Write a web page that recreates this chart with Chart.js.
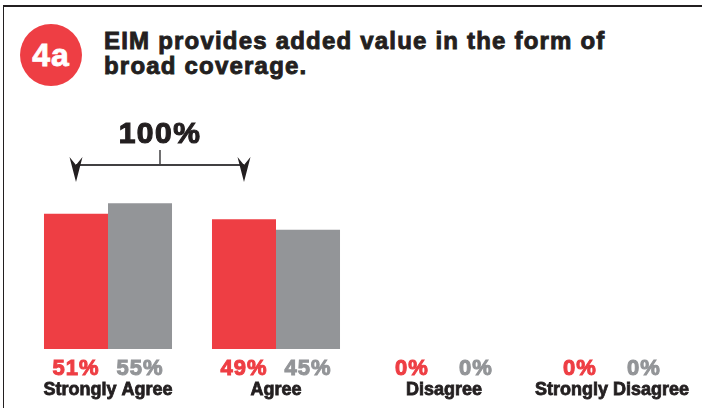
<!DOCTYPE html>
<html>
<head>
<meta charset="utf-8">
<script src="https://cdn.jsdelivr.net/npm/chart.js@4/dist/chart.umd.min.js"></script>
<style>
  html, body { margin: 0; padding: 0; background: #fff; }
  body { width: 702px; height: 408px; position: relative; overflow: hidden; font-family: "Liberation Sans", Arial, sans-serif; }
  #frame { position: absolute; left: 3px; top: 5px; right: -2px; bottom: -2px; border-top: 2px solid #231f20; border-left: 1.5px solid #231f20; }
  #badge { position: absolute; left: 20px; top: 24px; width: 62px; height: 62px; border-radius: 50%; background: #ee3e44;
           color: #fff; font-weight: bold; font-size: 32px; letter-spacing: 1px; line-height: 62px; text-align: center;
           -webkit-text-stroke: 0.8px #fff; }
  #title { position: absolute; left: 104px; top: 28px; margin: 0; font-size: 24px; line-height: 25px; font-weight: bold;
           letter-spacing: 1.2px; color: #231f20; -webkit-text-stroke: 0.9px #231f20; }
  #wrap { position: absolute; left: 0; top: 0; width: 702px; height: 408px; }
</style>
</head>
<body>
<div id="frame"></div>
<div id="badge">4a</div>
<h1 id="title">EIM provides added value in the form of<br>broad coverage.</h1>
<div id="wrap"><canvas id="chart" width="702" height="408"></canvas></div>
<script>
var categories = ['Strongly Agree', 'Agree', 'Disagree', 'Strongly Disagree'];
var seriesRed = [51, 49, 0, 0];
var seriesGray = [55, 45, 0, 0];
var bracketLabel = '100%';

var RED = '#ee3e44';
var GRAY = '#939598';
var INK = '#231f20';

// percentage under each bar, coloured like its bar
var valueLabels = {
  id: 'valueLabels',
  afterDatasetsDraw: function(chart) {
    var ctx = chart.ctx;
    ctx.save();
    ctx.font = 'bold 22px "Liberation Sans", Arial, sans-serif';
    ctx.textAlign = 'center';
    ctx.textBaseline = 'alphabetic';
    ctx.lineWidth = 1;
    if ('letterSpacing' in ctx) ctx.letterSpacing = '1px';
    chart.data.datasets.forEach(function(ds, i) {
      var meta = chart.getDatasetMeta(i);
      meta.data.forEach(function(bar, j) {
        ctx.fillStyle = ds.backgroundColor;
        ctx.strokeStyle = ds.backgroundColor;
        ctx.fillText(ds.data[j] + '%', bar.x, 375);
        ctx.strokeText(ds.data[j] + '%', bar.x, 375);
      });
    });
    ctx.restore();
  }
};

// bracket joining the two red bars with its total
var bracket = {
  id: 'bracket',
  afterDatasetsDraw: function(chart) {
    var ctx = chart.ctx;
    var bars = chart.getDatasetMeta(0).data;
    var x1 = bars[0].x, x2 = bars[1].x;
    var mid = (x1 + x2) / 2;
    var lineY = 165;
    ctx.save();
    ctx.strokeStyle = '#414042';
    ctx.lineWidth = 2;
    ctx.beginPath();
    ctx.moveTo(x1, lineY);
    ctx.lineTo(x2, lineY);
    ctx.stroke();
    ctx.lineWidth = 1.5;
    ctx.beginPath();
    ctx.moveTo(mid, 150);
    ctx.lineTo(mid, lineY);
    ctx.stroke();
    ctx.fillStyle = INK;
    [x1, x2].forEach(function(x) {
      ctx.beginPath();
      ctx.moveTo(x, 182);
      ctx.lineTo(x - 6.5, 157);
      ctx.lineTo(x, 165);
      ctx.lineTo(x + 6.5, 157);
      ctx.closePath();
      ctx.fill();
    });
    ctx.font = 'bold 30px "Liberation Sans", Arial, sans-serif';
    ctx.textAlign = 'center';
    ctx.textBaseline = 'alphabetic';
    ctx.strokeStyle = INK;
    ctx.lineWidth = 1.2;
    if ('letterSpacing' in ctx) ctx.letterSpacing = '1.5px';
    ctx.fillText(bracketLabel, mid, 143);
    ctx.strokeText(bracketLabel, mid, 143);
    ctx.restore();
  }
};

new Chart(document.getElementById('chart').getContext('2d'), {
  type: 'bar',
  data: {
    labels: categories,
    datasets: [
      { data: seriesRed, backgroundColor: RED },
      { data: seriesGray, backgroundColor: GRAY }
    ]
  },
  options: {
    responsive: false,
    animation: false,
    layout: { padding: { left: 24, right: 6, top: 84, bottom: 0 } },
    datasets: { bar: { barPercentage: 1, categoryPercentage: 0.762, borderWidth: 0 } },
    plugins: { legend: { display: false }, tooltip: { enabled: false }, title: { display: false } },
    scales: {
      x: {
        grid: { display: false, drawTicks: false },
        border: { display: false },
        ticks: {
          color: INK,
          padding: 30,
          maxRotation: 0,
          autoSkip: false,
          textStrokeColor: INK,
          textStrokeWidth: 0.8,
          font: { family: '"Liberation Sans", Arial, sans-serif', size: 18, weight: 'bold' }
        },
        afterFit: function(scale) {
          scale.height = 59;
          scale.paddingLeft = 0;
          scale.paddingRight = 0;
        }
      },
      y: { display: false, min: 0, max: 100 }
    }
  },
  plugins: [valueLabels, bracket]
});
</script>
</body>
</html>
